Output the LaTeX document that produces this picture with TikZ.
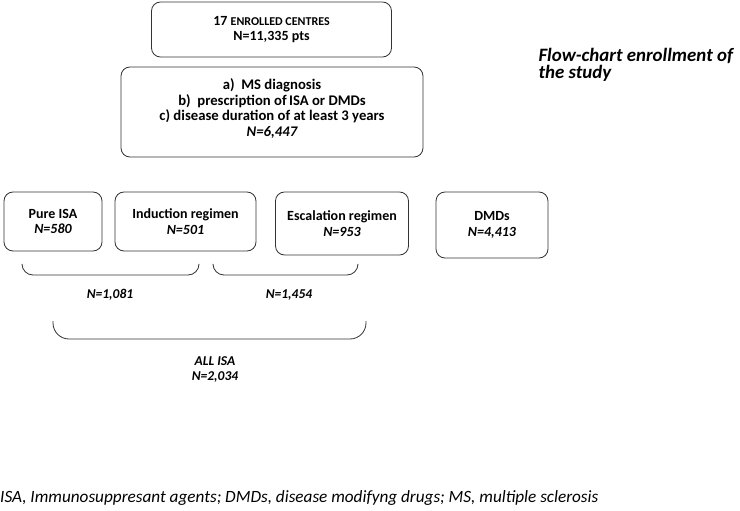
\documentclass[tikz,border=0pt]{standalone}
\usepackage{fontspec}
\setmainfont{Carlito}
\usetikzlibrary{positioning}

\begin{document}
\begin{tikzpicture}[x=1pt,y=-1pt]
    \tikzset{
        box/.style={draw=black!80,thick,rounded corners=9pt,align=center,
            font=\fontsize{14}{15.5}\selectfont\bfseries,inner sep=0pt},
        brace/.style={draw=black!80,thick,rounded corners=11pt},
        lab/.style={font=\fontsize{13.5}{15}\selectfont\bfseries\itshape,align=center}
    }
    \def\rowy{221.5}
    \def\bt{265}
    \def\bb{275}
    \useasboundingbox (0,0) rectangle (740,511);
    \node[box,minimum width=240pt,minimum height=55pt] (centres) at (271.5,29.5)
        {17 {\fontsize{12}{15.5}\selectfont ENROLLED CENTRES}\\N=11,335 pts};
    \node[box,minimum width=302pt,minimum height=90pt,font=\fontsize{14.7}{15.7}\selectfont\bfseries,text depth=9pt] (criteria) at (272,112)
        {a)\ \ MS diagnosis\\b)\ \ prescription of\,ISA or DMDs\\c) disease duration of at least 3 years\\\itshape N=6,447};
    \node[box,minimum width=98pt,minimum height=59pt] (pure) at (53,\rowy)
        {Pure ISA\\\itshape N=580};
    \node[box,minimum width=141pt,minimum height=59pt] (induction) at (185.5,\rowy)
        {Induction regimen\\\itshape N=501};
    \node[box,minimum width=133pt,minimum height=63pt] (escalation) at (342,223.5)
        {Escalation regimen\\\itshape N=953};
    \node[box,minimum width=112pt,minimum height=66pt] (dmds) at (492,225)
        {DMDs\\\itshape N=4,413};
    \node[anchor=west,align=left,font=\fontsize{18.9}{17.5}\selectfont\bfseries\itshape] (title) at (535,65)
        {Flow-chart enrollment of\\the study};
    % braces under the regimens
    \draw[brace] (22,\bt) -- (22,\bb) -- (199,\bb) -- (199,\bt);
    \draw[brace] (213,\bt) -- (213,\bb) -- (358,\bb) -- (358,\bt);
    \draw[brace,rounded corners=16pt] (53,321) -- (53,339) -- (366,339) -- (366,321);
    \node[lab] (pureind) at (110,295) {N=1,081};
    \node[lab] (indesc) at (289,295) {N=1,454};
    \node[lab] (allisa) at (215,369) {ALL ISA\\N=2,034};
    \node[anchor=west,inner sep=0pt,font=\fontsize{17.2}{18}\selectfont\itshape] (note) at (0,498)
        {ISA, Immunosuppresant agents; DMDs, disease modifyng drugs; MS, multiple sclerosis};
\end{tikzpicture}
\end{document}
